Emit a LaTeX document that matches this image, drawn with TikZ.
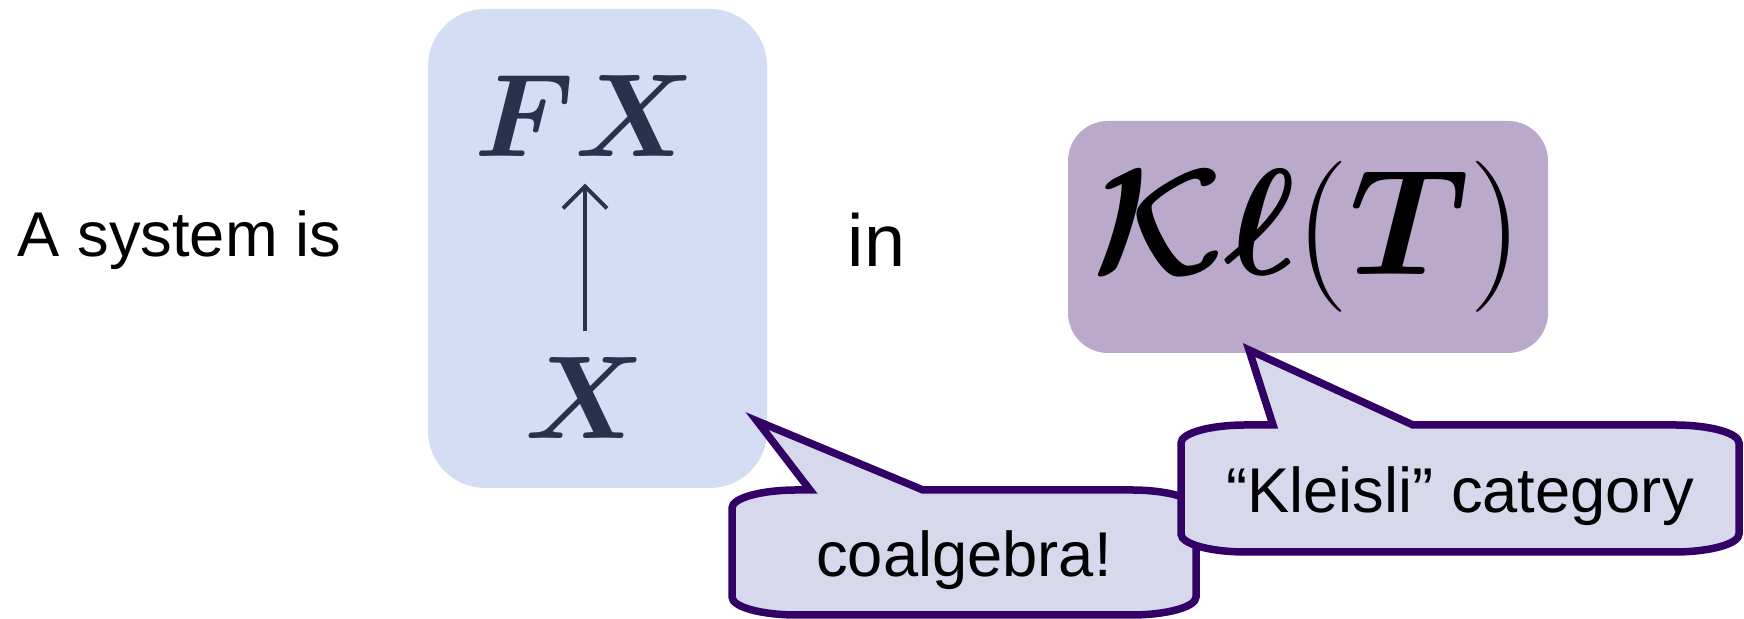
\RequirePackage{fix-cm}
\documentclass[tikz,border=0pt]{standalone}
\usepackage[no-math]{fontspec}
\setmainfont{Liberation Sans}
\usepackage{bm}
\usetikzlibrary{arrows.meta}
\definecolor{sysblue}{HTML}{D3DEF5}
\definecolor{kleislipurple}{HTML}{BBA9CC}
\definecolor{calloutfill}{HTML}{D8D8EC}
\definecolor{calloutline}{HTML}{330066}
\definecolor{mathink}{HTML}{29324D}

\begin{document}
\begin{tikzpicture}[
    every node/.style={inner sep=0pt},
    sysbox/.style={
        rectangle,
        rounded corners=0.57cm,
        fill=sysblue,
        minimum width=3.39cm,
        minimum height=4.79cm
    },
    catbox/.style={
        rectangle,
        rounded corners=0.40cm,
        fill=kleislipurple,
        minimum width=4.80cm,
        minimum height=2.32cm,
        font=\fontsize{43pt}{50pt}\selectfont
    },
    bigtext/.style={font=\fontsize{18pt}{22pt}\selectfont, anchor=base west},
    objtext/.style={font=\fontsize{33.6pt}{40pt}\selectfont, text=mathink, anchor=base},
    callout/.style={draw=calloutline, fill=calloutfill, line width=0.075cm, line join=miter},
    calltext/.style={font=\fontsize{18pt}{22pt}\selectfont, anchor=base},
    arrow/.style={-{Straight Barb[length=0.22cm, width=0.44cm]}, line width=1.1pt, color=mathink}
]

\useasboundingbox (0,0) rectangle (17.44,6.19);

% SENTENCE
\node[bigtext] (intro) at (0.17,3.62) {A system is};
\node[bigtext, font=\fontsize{21pt}{25pt}\selectfont] (in) at (8.47,3.52) {in};

% COALGEBRA BOX
\node[sysbox] (sys) at (5.975,3.705) {};
\node[objtext] (fx) at (5.85,4.62) {$\bm{FX}$};
\node[objtext] (x) at (5.85,1.80) {$\bm{X}$};
\draw[arrow, shorten <=0.26cm, shorten >=0.26cm] (x.north) -- (fx.south);

% CATEGORY BOX
\node[catbox] (kl) at (13.08,3.82) {$\bm{\mathcal{K}}\bm{\ell}(\bm{T})$};

% CALLOUTS
\draw[callout] (7.32,0.22) -- (7.32,1.11)
    arc[start angle=180, end angle=90, x radius=0.65cm, y radius=0.18cm]
    -- (8.10,1.29) -- (7.57,1.98) -- (9.23,1.29) -- (11.31,1.29)
    arc[start angle=90, end angle=0, x radius=0.65cm, y radius=0.18cm]
    -- (11.96,0.22)
    arc[start angle=0, end angle=-90, x radius=0.65cm, y radius=0.18cm]
    -- (7.97,0.04)
    arc[start angle=270, end angle=180, x radius=0.65cm, y radius=0.18cm] -- cycle;
\node[calltext] (coalg) at (9.64,0.42) {coalgebra!};

\draw[callout] (11.81,0.85) -- (11.81,1.76)
    arc[start angle=180, end angle=90, x radius=0.65cm, y radius=0.18cm]
    -- (12.73,1.94) -- (12.49,2.69) -- (14.13,1.94) -- (16.74,1.94)
    arc[start angle=90, end angle=0, x radius=0.65cm, y radius=0.18cm]
    -- (17.39,0.85)
    arc[start angle=0, end angle=-90, x radius=0.65cm, y radius=0.18cm]
    -- (12.46,0.67)
    arc[start angle=270, end angle=180, x radius=0.65cm, y radius=0.18cm] -- cycle;
\node[calltext] (kleisli) at (14.60,1.06) {“Kleisli” category};

\end{tikzpicture}
\end{document}
